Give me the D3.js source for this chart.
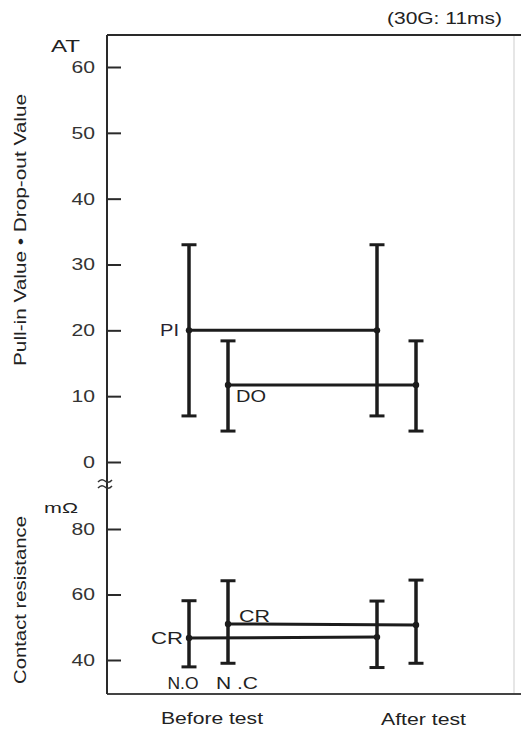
<!DOCTYPE html>
<html>
<head>
<meta charset="utf-8">
<script src="https://cdn.jsdelivr.net/npm/d3@7"></script>
<style>
  html, body { margin: 0; padding: 0; background: #fff; }
  svg { display: block; font-family: "Liberation Sans", Arial, Helvetica, sans-serif; }
</style>
</head>
<body>
<svg id="chart" width="521" height="731"></svg>
<script>
// ---------- data ----------
const categories = ["Before test", "After test"];
const contacts = ["N.O", "N.C"];
const atTicks = [0, 10, 20, 30, 40, 50, 60];
const crTicks = [40, 60, 80];

const piMid = [20, 20], piLow = [7, 7], piHigh = [33, 33];
const doMid = [11.7, 11.7], doLow = [4.7, 4.7], doHigh = [18.4, 18.4];
const crNoMid = [46.7, 47], crNoLow = [37.9, 37.7], crNoHigh = [58.1, 58];
const crNcMid = [51, 50.7], crNcLow = [39, 39], crNcHigh = [64.2, 64.4];

// ---------- layout ----------
const svg = d3.select("#chart");
const ink = "#1c1c1c";
const frameLeft = 107, frameTop = 35, frameBottom = 694;

const x = d3.scalePoint().domain(categories).range([208.5, 396.5]);
const xi = d3.scalePoint().domain(contacts).range([-19.5, 19.5]);
const yAT = d3.scaleLinear().domain([0, 60]).range([462, 67]);
const yCR = d3.scaleLinear().domain([40, 80]).range([660, 529]);

const series = [
  { contact: "N.O", y: yAT, mid: piMid, lo: piLow, hi: piHigh },
  { contact: "N.C", y: yAT, mid: doMid, lo: doLow, hi: doHigh },
  { contact: "N.O", y: yCR, mid: crNoMid, lo: crNoLow, hi: crNoHigh },
  { contact: "N.C", y: yCR, mid: crNcMid, lo: crNcLow, hi: crNcHigh }
];

function fitText(sel, len) {
  sel.attr("textLength", len).attr("lengthAdjust", "spacingAndGlyphs");
  return sel;
}

// ---------- frame ----------
svg.append("line").attr("x1", 514).attr("x2", 514).attr("y1", frameTop).attr("y2", frameBottom)
  .attr("stroke", "#dedede").attr("stroke-width", 1.5);
svg.append("line").attr("x1", frameLeft).attr("x2", 521).attr("y1", frameTop).attr("y2", frameTop)
  .attr("stroke", "#2a2a2a").attr("stroke-width", 2);
svg.append("line").attr("x1", frameLeft).attr("x2", 521).attr("y1", frameBottom).attr("y2", frameBottom)
  .attr("stroke", "#444").attr("stroke-width", 2);
svg.append("line").attr("x1", frameLeft).attr("x2", frameLeft).attr("y1", frameTop).attr("y2", frameBottom)
  .attr("stroke", "#2a2a2a").attr("stroke-width", 2);

// axis break symbol
[481, 487].forEach(cy => {
  const p = d3.path();
  p.moveTo(98, cy + 1);
  p.quadraticCurveTo(101.5, cy - 3, 105, cy);
  p.quadraticCurveTo(108.5, cy + 3, 112, cy - 1);
  svg.append("path").attr("d", p.toString()).attr("fill", "none")
    .attr("stroke", "#333").attr("stroke-width", 1.5);
});

// ---------- axes ----------
function drawAxis(scale, ticks) {
  const g = svg.append("g").attr("transform", `translate(${frameLeft},0)`)
    .call(d3.axisLeft(scale).tickValues(ticks).tickSizeInner(-14).tickSizeOuter(0).tickPadding(12));
  g.select(".domain").remove();
  g.selectAll(".tick line").attr("stroke", "#2a2a2a").attr("stroke-width", 2);
  g.selectAll(".tick text").attr("fill", "#333").attr("font-size", 17)
    .attr("font-family", "Liberation Sans, Arial, sans-serif")
    .each(function (d) {
      const s = String(d);
      fitText(d3.select(this), s.length > 1 ? 23.5 : 12);
    });
}
drawAxis(yAT, atTicks);
drawAxis(yCR, crTicks);

// ---------- error bars ----------
const cap = 7.5;
series.forEach(s => {
  const xs = categories.map(c => x(c) + xi(s.contact));
  svg.append("line")
    .attr("x1", xs[0]).attr("y1", s.y(s.mid[0]))
    .attr("x2", xs[1]).attr("y2", s.y(s.mid[1]))
    .attr("stroke", ink).attr("stroke-width", 3);
  categories.forEach((c, i) => {
    const cx = xs[i];
    const g = svg.append("g").attr("stroke", ink);
    g.append("line").attr("x1", cx).attr("x2", cx)
      .attr("y1", s.y(s.lo[i])).attr("y2", s.y(s.hi[i])).attr("stroke-width", 3.5);
    [s.lo[i], s.hi[i]].forEach(v => {
      g.append("line").attr("x1", cx - cap).attr("x2", cx + cap)
        .attr("y1", s.y(v)).attr("y2", s.y(v)).attr("stroke-width", 3);
    });
    svg.append("circle").attr("cx", cx).attr("cy", s.y(s.mid[i])).attr("r", 3.2).attr("fill", ink);
  });
});

// ---------- labels ----------
function label(txt, xx, yy, len, opts = {}) {
  const t = svg.append("text").attr("x", xx).attr("y", yy).text(txt)
    .attr("font-size", opts.size || 17).attr("fill", opts.fill || "#222")
    .attr("text-anchor", opts.anchor || "start");
  if (opts.rotate) t.attr("transform", `rotate(-90,${xx},${yy})`);
  fitText(t, len);
  return t;
}

const xNO0 = x(categories[0]) + xi("N.O");
const xNC0 = x(categories[0]) + xi("N.C");

label("(30G: 11ms)", 387, 24, 115);
label("AT", 51, 52, 29);
label("mΩ", 44, 513, 34, { size: 15 });

label("PI", xNO0 - 10, yAT(piMid[0]) + 6, 19, { anchor: "end", fill: "#2a2230" });
label("DO", xNC0 + 8, yAT(doMid[0]) + 17, 30);
label("CR", xNC0 + 11, yCR(crNcMid[0]) - 2, 31);
label("CR", xNO0 - 6, yCR(crNoMid[0]) + 6, 32, { anchor: "end" });

label(contacts[0], xNO0 - 6, 689, 31, { anchor: "middle" });
label("N .C", xNC0 + 9, 689, 42, { anchor: "middle" });

label(categories[0], x(categories[0]) + 3.5, 724, 102, { anchor: "middle" });
label(categories[1], x(categories[1]) + 27, 725, 85, { anchor: "middle" });

label("Pull-in Value • Drop-out Value", 26, 230, 272, { anchor: "middle", rotate: true });
label("Contact resistance", 26, 600, 168, { anchor: "middle", rotate: true });
</script>
</body>
</html>
